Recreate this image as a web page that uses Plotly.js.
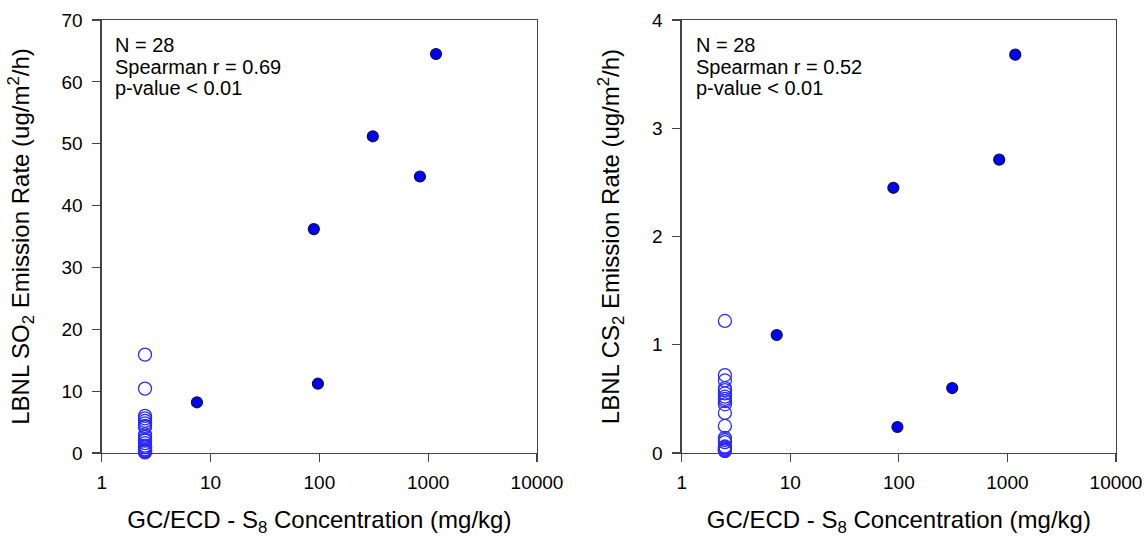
<!DOCTYPE html>
<html>
<head>
<meta charset="utf-8">
<script src="https://cdn.plot.ly/plotly-3.0.1.min.js"></script>
<style>html,body{margin:0;padding:0;background:#fff;}#chart{width:1146px;height:537px;}</style>
</head>
<body>
<div id="chart"></div>
<script>
// Detected samples (filled) - same S8 concentrations for both panels
const detX = [7.5, 89, 97, 310, 840, 1180];
const detSO2 = [8.2, 36.2, 11.2, 51.2, 44.7, 64.5];
const detCS2 = [1.09, 2.45, 0.24, 0.60, 2.71, 3.68];

// Non-detect samples (open), plotted at 2.5 mg/kg
const ndX = 2.5;
const ndSO2 = [15.9, 10.4, 6.0, 5.6, 5.2, 4.8, 4.4, 4.2, 3.0, 2.6, 2.2, 2.0, 1.6, 1.2, 0.9, 0.6, 0.4, 0.3, 0.2, 0.1, 0.5, 1.0];
const ndCS2 = [1.22, 0.72, 0.67, 0.60, 0.55, 0.52, 0.48, 0.37, 0.25, 0.14, 0.05, 0.03, 0.02, 0.04, 0.10, 0.50, 0.58, 0.45, 0.12, 0.06, 0.03, 0.02];

const xTickVals = [1, 10, 100, 1000, 10000];
const xTickText = ['1', '10', '100', '1000', '10000'];
const statsSO2 = ['N = 28', 'Spearman r = 0.69', 'p-value < 0.01'];
const statsCS2 = ['N = 28', 'Spearman r = 0.52', 'p-value < 0.01'];

const xTitle = 'GC/ECD - S<sub>8</sub> Concentration (mg/kg)';
const yTitleSO2 = 'LBNL SO<sub>2</sub> Emission Rate (ug/m<sup>2</sup>/h)';
const yTitleCS2 = 'LBNL CS<sub>2</sub> Emission Rate (ug/m<sup>2</sup>/h)';

const font = 'Arial, "Liberation Sans", sans-serif';

const openMarker = {symbol: 'circle-open', size: 13, color: '#2a2aff', line: {width: 1.3, color: '#2a2aff'}};
const fillMarker = {symbol: 'circle', size: 11, color: '#0000ff', line: {width: 1.2, color: '#101040'}};

const traces = [
  {x: ndSO2.map(() => ndX), y: ndSO2, xaxis: 'x', yaxis: 'y', mode: 'markers', type: 'scatter', marker: openMarker, showlegend: false, cliponaxis: false},
  {x: detX, y: detSO2, xaxis: 'x', yaxis: 'y', mode: 'markers', type: 'scatter', marker: fillMarker, showlegend: false, cliponaxis: false},
  {x: ndCS2.map(() => ndX), y: ndCS2, xaxis: 'x2', yaxis: 'y2', mode: 'markers', type: 'scatter', marker: openMarker, showlegend: false, cliponaxis: false},
  {x: detX, y: detCS2, xaxis: 'x2', yaxis: 'y2', mode: 'markers', type: 'scatter', marker: fillMarker, showlegend: false, cliponaxis: false}
];

const axisCommon = {
  showgrid: false, zeroline: false, showline: true, mirror: true,
  linecolor: '#444', linewidth: 1.3,
  ticks: 'outside', ticklen: 8, tickwidth: 1.2, tickcolor: '#444',
  tickfont: {family: font, size: 19, color: '#000'}
};

const yDomain = [1 - 453/537, 1 - 20/537];
const titleFont = {family: font, size: 24, color: '#000'};

const annots = [];
const lineTops = [32, 54, 75];
statsSO2.forEach((t, i) => annots.push({xref: 'paper', yref: 'paper', x: 113/1146, y: 1 - lineTops[i]/537,
  xanchor: 'left', yanchor: 'top', align: 'left', showarrow: false, text: t, font: {family: font, size: 20, color: '#000'}}));
statsCS2.forEach((t, i) => annots.push({xref: 'paper', yref: 'paper', x: 694/1146, y: 1 - lineTops[i]/537,
  xanchor: 'left', yanchor: 'top', align: 'left', showarrow: false, text: t, font: {family: font, size: 20, color: '#000'}}));

const layout = {
  width: 1146, height: 537,
  margin: {l: 0, r: 0, t: 0, b: 0},
  paper_bgcolor: '#fff', plot_bgcolor: '#fff',
  font: {family: font, color: '#000'},
  xaxis: Object.assign({}, axisCommon, {
    type: 'log', range: [0, 4], domain: [101.7/1146, 537/1146],
    tickvals: xTickVals, ticktext: xTickText, anchor: 'y', ticklabelstandoff: 4,
    title: {text: xTitle, font: titleFont, standoff: 26}
  }),
  yaxis: Object.assign({}, axisCommon, {
    range: [0, 70], dtick: 10, domain: yDomain, anchor: 'x', ticklabelstandoff: 6,
    title: {text: yTitleSO2, font: titleFont, standoff: 25}
  }),
  xaxis2: Object.assign({}, axisCommon, {
    type: 'log', range: [0, 4], domain: [681.7/1146, 1116/1146],
    tickvals: xTickVals, ticktext: xTickText, anchor: 'y2', ticklabelstandoff: 4,
    title: {text: xTitle, font: titleFont, standoff: 26}
  }),
  yaxis2: Object.assign({}, axisCommon, {
    range: [0, 4], dtick: 1, domain: yDomain, anchor: 'x2', ticklabelstandoff: 6,
    title: {text: yTitleCS2, font: titleFont, standoff: 25}
  }),
  annotations: annots
};

Plotly.newPlot('chart', traces, layout, {displayModeBar: false, staticPlot: true});
</script>
</body>
</html>
